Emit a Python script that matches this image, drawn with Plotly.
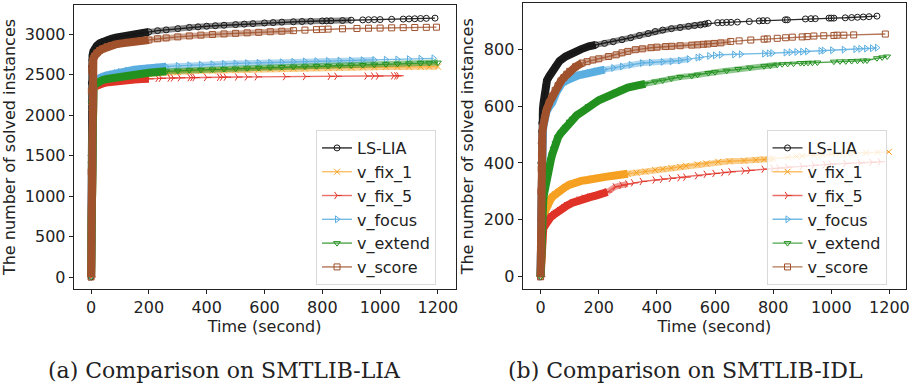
import plotly.graph_objects as go

# ---------------- data: SMTLIB-LIA ----------------
lia_lslia_t = [0, 0.5, 1, 2, 3, 5, 8, 12, 20, 30, 40, 55, 70, 85, 100, 125, 150, 175, 200, 230, 260, 300, 340, 370, 400, 430, 460, 500, 530, 560, 600, 630, 660, 700, 730, 760, 800, 815, 830, 870, 900, 940, 960, 980, 1000, 1040, 1080, 1100, 1120, 1140, 1160, 1190]
lia_lslia_v = [0, 1500, 2400, 2600, 2680, 2740, 2790, 2820, 2860, 2890, 2910, 2930, 2945, 2958, 2970, 2985, 3000, 3015, 3030, 3045, 3055, 3070, 3085, 3092, 3100, 3106, 3112, 3120, 3126, 3132, 3140, 3145, 3150, 3155, 3158, 3161, 3165, 3166, 3167, 3170, 3174, 3178, 3180, 3181, 3182, 3185, 3188, 3190, 3192, 3195, 3197, 3200]

lia_fix1_t = [0, 1, 2, 3, 5, 8, 12, 20, 30, 40, 55, 70, 85, 100, 125, 150, 175, 200, 230, 260, 300, 340, 380, 420, 460, 500, 540, 580, 620, 660, 700, 740, 780, 820, 860, 900, 940, 980, 1020, 1060, 1100, 1140, 1170, 1200]
lia_fix1_v = [0, 1300, 2100, 2250, 2290, 2320, 2345, 2370, 2395, 2410, 2425, 2437, 2446, 2455, 2470, 2485, 2497, 2508, 2518, 2526, 2535, 2542, 2548, 2552, 2556, 2560, 2563, 2567, 2570, 2573, 2576, 2579, 2582, 2585, 2588, 2590, 2592, 2594, 2596, 2597, 2598, 2599, 2600, 2601]

lia_fix5_t = [0, 1, 2, 3, 5, 8, 12, 20, 30, 45, 60, 80, 100, 125, 150, 175, 200, 232, 243, 274, 285, 309, 343, 352, 360, 400, 445, 455, 468, 507, 541, 575, 673, 742, 828, 851, 955, 978, 995, 1047, 1058, 1065]
lia_fix5_v = [0, 1300, 2100, 2280, 2320, 2340, 2355, 2370, 2385, 2398, 2408, 2420, 2428, 2435, 2441, 2446, 2450, 2455, 2456, 2459, 2460, 2462, 2464, 2465, 2465, 2467, 2469, 2470, 2470, 2472, 2473, 2474, 2477, 2478, 2480, 2481, 2483, 2484, 2484, 2486, 2486, 2487]

lia_focus_t = [0, 1, 2, 3, 5, 8, 12, 20, 30, 40, 55, 70, 85, 100, 125, 150, 175, 200, 230, 260, 300, 340, 380, 420, 460, 500, 540, 580, 620, 660, 700, 740, 780, 820, 860, 900, 940, 980, 1020, 1060, 1100, 1140, 1185]
lia_focus_v = [0, 1500, 2200, 2330, 2380, 2400, 2420, 2440, 2460, 2475, 2492, 2505, 2520, 2535, 2550, 2562, 2572, 2580, 2592, 2600, 2610, 2618, 2625, 2630, 2635, 2640, 2644, 2648, 2650, 2655, 2660, 2664, 2668, 2671, 2675, 2678, 2680, 2683, 2686, 2689, 2693, 2698, 2703]

lia_extend_t = [0, 1, 2, 3, 5, 8, 12, 20, 30, 40, 55, 70, 85, 100, 125, 150, 175, 200, 230, 260, 300, 340, 380, 420, 460, 500, 540, 580, 620, 660, 700, 740, 780, 820, 860, 900, 940, 980, 1020, 1060, 1100, 1140, 1170, 1200]
lia_extend_v = [0, 1400, 2150, 2300, 2340, 2360, 2380, 2400, 2420, 2435, 2448, 2458, 2465, 2470, 2485, 2500, 2512, 2525, 2535, 2542, 2550, 2556, 2560, 2565, 2570, 2575, 2580, 2585, 2590, 2595, 2600, 2603, 2606, 2609, 2612, 2616, 2620, 2625, 2630, 2635, 2640, 2644, 2647, 2650]

lia_score_t = [0, 0.5, 1, 2, 3, 5, 8, 12, 20, 30, 40, 55, 70, 85, 100, 125, 150, 175, 200, 230, 260, 300, 340, 380, 420, 460, 500, 540, 580, 620, 660, 700, 740, 780, 800, 820, 870, 920, 960, 1000, 1040, 1080, 1120, 1160, 1195]
lia_score_v = [0, 1300, 2300, 2550, 2610, 2660, 2700, 2730, 2770, 2800, 2820, 2845, 2862, 2875, 2885, 2900, 2912, 2922, 2930, 2945, 2955, 2968, 2980, 2990, 2998, 3005, 3012, 3018, 3024, 3032, 3038, 3045, 3052, 3058, 3061, 3064, 3068, 3072, 3075, 3077, 3080, 3082, 3084, 3086, 3088]

# ---------------- data: SMTLIB-IDL ----------------
idl_lslia_t = [0, 0.5, 1, 2, 3, 4, 6, 8, 10, 13, 17, 22, 30, 40, 51, 65, 86, 100, 120, 140, 166, 190, 220, 250, 280, 310, 340, 370, 394, 420, 450, 480, 509, 530, 550, 565, 577, 609, 625, 640, 655, 677, 718, 752, 765, 780, 842, 849, 911, 930, 945, 992, 1000, 1009, 1048, 1070, 1090, 1110, 1130, 1157]
idl_lslia_v = [0, 200, 400, 470, 510, 540, 570, 590, 610, 640, 669, 690, 705, 722, 739, 758, 774, 782, 790, 800, 810, 815, 820, 826, 833, 840, 848, 855, 862, 867, 872, 876, 880, 883, 885, 888, 891, 893, 893, 894, 894, 895, 897, 899, 900, 900, 903, 903, 906, 907, 907, 909, 909, 909, 910, 911, 912, 913, 914, 916]

idl_fix1_t = [0, 1, 3, 6, 9, 12, 18, 25, 32, 40, 50, 60, 70, 85, 100, 109, 125, 140, 160, 180, 200, 223, 250, 280, 300, 330, 360, 394, 420, 450, 480, 500, 540, 570, 611, 650, 700, 740, 769, 800, 850, 880, 900, 941, 970, 1000, 1030, 1054, 1080, 1120, 1160, 1198]
idl_fix1_v = [0, 80, 150, 200, 215, 223, 240, 255, 268, 281, 290, 298, 305, 315, 324, 328, 333, 337, 340, 345, 348, 351, 355, 360, 362, 366, 370, 375, 378, 382, 386, 390, 395, 398, 404, 406, 408, 410, 412, 415, 420, 423, 424, 428, 429, 431, 433, 434, 435, 436, 437, 439]

idl_fix5_t = [0, 1, 3, 6, 9, 12, 18, 25, 35, 45, 51, 65, 80, 90, 110, 133, 150, 170, 190, 210, 230, 257, 280, 300, 320, 350, 394, 420, 450, 480, 500, 540, 570, 600, 630, 655, 700, 720, 769, 800, 820, 850, 900, 941, 980, 1000, 1050, 1100, 1140, 1169]
idl_fix5_v = [0, 70, 120, 160, 170, 176, 188, 200, 210, 218, 223, 233, 243, 250, 260, 270, 276, 280, 285, 290, 298, 316, 322, 326, 330, 335, 340, 343, 346, 348, 350, 355, 360, 363, 366, 369, 372, 374, 378, 380, 382, 385, 388, 392, 394, 396, 398, 400, 402, 404]

idl_focus_t = [0, 0.5, 1, 2, 3, 5, 7, 10, 15, 20, 30, 40, 55, 74, 90, 110, 130, 150, 166, 190, 220, 250, 280, 310, 349, 380, 420, 451, 480, 510, 540, 551, 580, 600, 620, 666, 689, 769, 785, 797, 843, 860, 880, 900, 917, 963, 974, 1003, 1043, 1083, 1100, 1120, 1140, 1157]
idl_focus_v = [0, 150, 300, 400, 440, 480, 505, 530, 560, 580, 598, 612, 650, 681, 690, 700, 708, 712, 716, 722, 728, 734, 739, 745, 751, 753, 755, 757, 760, 765, 770, 772, 776, 778, 780, 781, 782, 784, 785, 786, 788, 789, 790, 791, 792, 794, 795, 796, 798, 800, 801, 802, 803, 805]

idl_extend_t = [0, 1, 3, 6, 9, 12, 16, 20, 25, 29, 35, 40, 45, 51, 60, 70, 80, 86, 100, 110, 125, 143, 166, 185, 200, 220, 240, 260, 280, 300, 330, 360, 394, 420, 450, 480, 520, 540, 577, 600, 640, 680, 720, 769, 790, 814, 831, 850, 870, 894, 906, 920, 935, 952, 1009, 1030, 1050, 1070, 1090, 1110, 1123, 1157, 1175, 1192]
idl_extend_v = [0, 100, 170, 230, 270, 293, 320, 345, 368, 387, 410, 430, 450, 469, 490, 505, 518, 527, 545, 555, 568, 580, 600, 610, 620, 630, 640, 650, 660, 665, 672, 678, 686, 690, 697, 702, 706, 710, 716, 719, 724, 730, 735, 740, 742, 745, 747, 748, 749, 751, 751, 752, 752, 753, 756, 757, 757, 758, 759, 760, 760, 768, 771, 774]

idl_score_t = [0, 0.5, 1, 2, 3, 4, 6, 9, 13, 20, 30, 40, 50, 60, 70, 80, 90, 100, 120, 143, 160, 180, 200, 234, 260, 280, 300, 326, 350, 380, 400, 430, 451, 480, 520, 540, 560, 575, 597, 620, 654, 683, 723, 769, 780, 814, 843, 866, 900, 917, 940, 974, 1009, 1020, 1043, 1077, 1186]
idl_score_v = [0, 150, 300, 380, 430, 470, 505, 530, 555, 585, 612, 635, 655, 672, 688, 700, 712, 722, 738, 751, 756, 762, 766, 774, 780, 787, 792, 798, 801, 805, 807, 809, 810, 812, 814, 815, 817, 818, 820, 822, 827, 829, 832, 835, 836, 838, 840, 842, 843, 844, 846, 847, 848, 849, 849, 850, 853]

series_names = ["LS-LIA", "v_fix_1", "v_fix_5", "v_focus", "v_extend", "v_score"]

# ---------------- styles ----------------
styles = {
    "LS-LIA":   dict(color="#1a1a1a", rgb="26,26,26", line="rgba(20,20,20,0.9)", symbol="circle-open"),
    "v_fix_1":  dict(color="#f5a020", rgb="245,160,32", line="rgba(250,165,40,0.7)", symbol="x-thin-open"),
    "v_fix_5":  dict(color="#e03328", rgb="224,51,40", line="rgba(225,50,40,0.7)", symbol="y-right-open"),
    "v_focus":  dict(color="#5aaee0", rgb="90,174,224", line="rgba(90,174,224,0.85)", symbol="triangle-right-open"),
    "v_extend": dict(color="#22911f", rgb="34,145,31", line="rgba(34,145,31,0.8)", symbol="triangle-down-open"),
    "v_score":  dict(color="#a0522d", rgb="160,82,45", line="rgba(160,82,45,0.8)", symbol="square-open"),
}

# (times, values, solid-band end time, dense-marker end time)
lia = {
    "LS-LIA": (lia_lslia_t, lia_lslia_v, 220, 900),
    "v_fix_1": (lia_fix1_t, lia_fix1_v, 200, 1200),
    "v_fix_5": (lia_fix5_t, lia_fix5_v, 200, 200),
    "v_focus": (lia_focus_t, lia_focus_v, 260, 1000),
    "v_extend": (lia_extend_t, lia_extend_v, 260, 1200),
    "v_score": (lia_score_t, lia_score_v, 220, 700),
}
idl = {
    "LS-LIA": (idl_lslia_t, idl_lslia_v, 200, 580),
    "v_fix_1": (idl_fix1_t, idl_fix1_v, 300, 800),
    "v_fix_5": (idl_fix5_t, idl_fix5_v, 230, 300),
    "v_focus": (idl_focus_t, idl_focus_v, 220, 520),
    "v_extend": (idl_extend_t, idl_extend_v, 360, 820),
    "v_score": (idl_score_t, idl_score_v, 150, 660),
}

fig = go.Figure()

def add_panel(data, xa, ya, legend):
    for name in series_names:
        t, v, t1, t2 = data[name]
        st = styles[name]
        n1 = sum(1 for a in t if a <= t1)
        n2 = sum(1 for a in t if a <= t2)
        fig.add_trace(go.Scatter(
            x=t[:n1], y=v[:n1], xaxis=xa, yaxis=ya, mode="lines",
            line=dict(color=st["color"], width=8), showlegend=False,
            hoverinfo="skip", legend=legend))
        if n2 > n1:
            fig.add_trace(go.Scatter(
                x=t[n1 - 1:n2], y=v[n1 - 1:n2], xaxis=xa, yaxis=ya, mode="lines",
                line=dict(color="rgba(%s,0.5)" % st["rgb"], width=6), showlegend=False,
                hoverinfo="skip", legend=legend))
        fig.add_trace(go.Scatter(
            x=t, y=v, xaxis=xa, yaxis=ya, mode="lines+markers", name=name,
            legend=legend,
            line=dict(color=st["line"], width=1.4),
            marker=dict(symbol=st["symbol"], size=6, color=st["color"],
                        line=dict(width=1, color=st["color"]))))

add_panel(lia, "x", "y", "legend")
add_panel(idl, "x2", "y2", "legend2")

font_axis = dict(family="DejaVu Sans", size=16, color="#222222")
axis_common = dict(showline=True, mirror=True, linecolor="#222222", linewidth=1,
                   ticks="outside", ticklen=4, tickcolor="#222222",
                   showgrid=False, zeroline=False, tickfont=font_axis)

legend_common = dict(font=dict(family="DejaVu Sans", size=16, color="#222222"),
                     bgcolor="rgba(255,255,255,0.8)", bordercolor="#d9d9d9",
                     borderwidth=1, xanchor="left", yanchor="top",
                     tracegroupgap=0)

cap_font = dict(family="DejaVu Serif", size=22, color="#222222")

fig.update_layout(
    width=919, height=385,
    margin=dict(l=0, r=0, t=0, b=0),
    paper_bgcolor="white", plot_bgcolor="white",
    xaxis=dict(domain=[0.0805, 0.4973], range=[-60, 1261], tickvals=[0, 200, 400, 600, 800, 1000, 1200],
               title=dict(text="Time (second)", font=font_axis, standoff=2), anchor="y", **axis_common),
    yaxis=dict(domain=[0.2494, 0.987], range=[-148, 3362], tickvals=[0, 500, 1000, 1500, 2000, 2500, 3000],
               title=dict(text="The number of solved instances", font=font_axis, standoff=6), anchor="x", **axis_common),
    xaxis2=dict(domain=[0.5705, 0.9894], range=[-62, 1258], tickvals=[0, 200, 400, 600, 800, 1000, 1200],
                title=dict(text="Time (second)", font=font_axis, standoff=2), anchor="y2", **axis_common),
    yaxis2=dict(domain=[0.2486, 0.9914], range=[-44, 961], tickvals=[0, 200, 400, 600, 800],
                title=dict(text="The number of solved instances", font=font_axis, standoff=6), anchor="x2", **axis_common),
    legend=dict(x=0.345, y=0.6623, **legend_common),
    legend2=dict(x=0.8368, y=0.6623, **legend_common),
    annotations=[
        dict(text="(a) Comparison on SMTLIB-LIA", x=225/919, y=1 - 370/385, xref="paper", yref="paper",
             showarrow=False, xanchor="center", yanchor="middle", font=cap_font),
        dict(text="(b) Comparison on SMTLIB-IDL", x=688/919, y=1 - 370/385, xref="paper", yref="paper",
             showarrow=False, xanchor="center", yanchor="middle", font=cap_font),
    ],
)

fig.write_html("out.html")
